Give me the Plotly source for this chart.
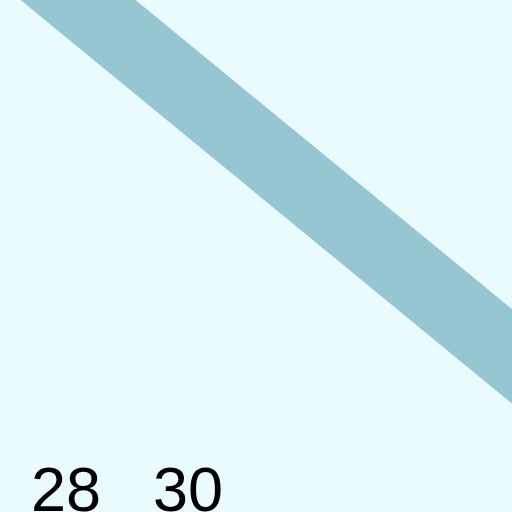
import plotly.graph_objects as go

# values
x_vals = [27, 28, 29, 30, 31, 32, 33, 34, 35, 36]
y_vals = [11.3, 10.2, 9.1, 8.05, 6.97, 5.89, 4.8, 3.72, 2.63, 1.54]
tick_vals = [28, 30]
tick_text = ["28", "30"]

fig = go.Figure()
fig.add_trace(go.Scatter(
    x=x_vals, y=y_vals, mode="lines",
    line=dict(color="#97C6D3", width=73),
    hoverinfo="skip", showlegend=False,
))

fig.update_layout(
    width=512, height=512,
    margin=dict(l=0, r=0, t=0, b=65),
    paper_bgcolor="#EAFBFD", plot_bgcolor="#EAFBFD",
    font=dict(family="Liberation Sans, Arial, sans-serif", color="black"),
)
fig.update_xaxes(
    range=[26.92, 35.31], tickvals=tick_vals, ticktext=tick_text,
    showgrid=False, zeroline=False, showline=False, ticks="",
    tickfont=dict(size=63), automargin=False,
)
fig.update_yaxes(
    range=[0.325, 10], showgrid=False, zeroline=False, showline=False,
    showticklabels=False, ticks="", automargin=False,
)

# drop the page's default body margin so the chart fills the window
fig.write_html("out.html", config={"displayModeBar": False},
               post_script="document.body.style.margin='0';")
